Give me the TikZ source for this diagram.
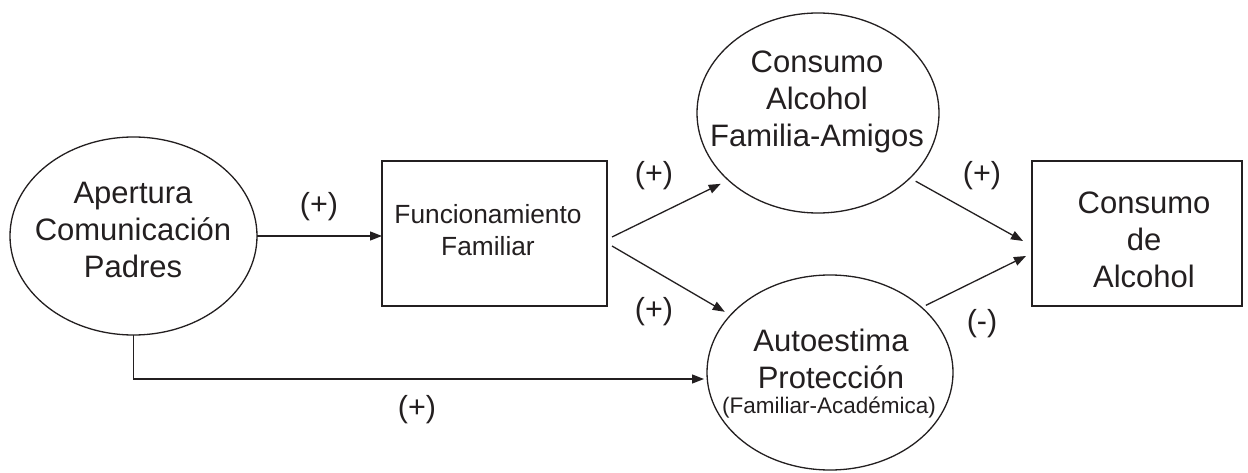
\documentclass[tikz,border=0pt]{standalone}
\usepackage{fontspec}
\setmainfont{Liberation Sans}
\usetikzlibrary{shapes.geometric,arrows.meta}
\definecolor{ink}{HTML}{231F20}
\begin{document}
\begin{tikzpicture}[x=1pt,y=1pt,
  every node/.style={inner sep=0pt,outer sep=0pt,text=ink},
  ell/.style={draw=ink,line width=1.3pt,ellipse},
  box/.style={draw=ink,line width=1.3pt,rectangle},
  arr/.style={draw=ink,line width=1.3pt,-{Triangle[length=12pt,width=9pt]}},
  big/.style={font=\fontsize{31}{37}\selectfont,align=center},
  mid/.style={font=\fontsize{26.3}{32}\selectfont,align=center},
  small/.style={font=\fontsize{22.5}{26}\selectfont},
  sign/.style={font=\fontsize{30.5}{36}\selectfont,anchor=base}
]
\path[fill=white,use as bounding box] (0,0) rectangle (1248,472);

% shapes
\node[ell,minimum width=247pt,minimum height=198pt] (ap) at (133.5,236) {};
\node[box,minimum width=225pt,minimum height=145pt] (func) at (494.5,238.5) {};
\node[ell,minimum width=242pt,minimum height=200pt] (ca) at (818,359) {};
\node[ell,minimum width=246pt,minimum height=195pt] (auto) at (830,99.5) {};
\node[box,minimum width=210pt,minimum height=145pt] (cda) at (1137,238.5) {};

% texts
\node[big] (tap) at (133,242.5) {Apertura\\Comunicación\\Padres};
\node[mid] (tfunc) at (488,242) {Funcionamiento\\Familiar};
\node[big] (tca) at (817,370) {Consumo\\Alcohol\\Familia-Amigos};
\node[big] (tauto) at (831,113) {Autoestima\\Protección};
\node[small,anchor=base] (tauto2) at (829,59) {(Familiar-Académica)};
\node[big] (tcda) at (1144,232.5) {Consumo\\de\\Alcohol};

% connectors
\draw[arr] (ap.east) -- (ap.east -| func.west);
\draw[arr] (ap.south) |- ([shift={(-3,-6.5)}]auto.west);
\draw[arr] ([shift={(5,-3.5)}]func.east) -- ([shift={(-6.4,-4.8)}]ca.216.87);
\draw[arr] ([shift={(5,-12.5)}]func.east) -- ([shift={(-5.8,3.3)}]auto.150.26);
\draw[arr] ([shift={(5.4,-3.6)}]ca.325.91) -- ([shift={(-9,-7.5)}]cda.west);
\draw[arr] ([shift={(3.7,2.6)}]auto.35.19) -- ([shift={(-6,-22.5)}]cda.west);

% signs
\node[sign] (s1) at (319,258) {(+)};
\node[sign] (s2) at (654,288) {(+)};
\node[sign] (s3) at (654,153) {(+)};
\node[sign] (s4) at (982,288) {(+)};
\node[sign] (s5) at (982,141) {(-)};
\node[sign] (s6) at (417,55) {(+)};
\end{tikzpicture}
\end{document}
